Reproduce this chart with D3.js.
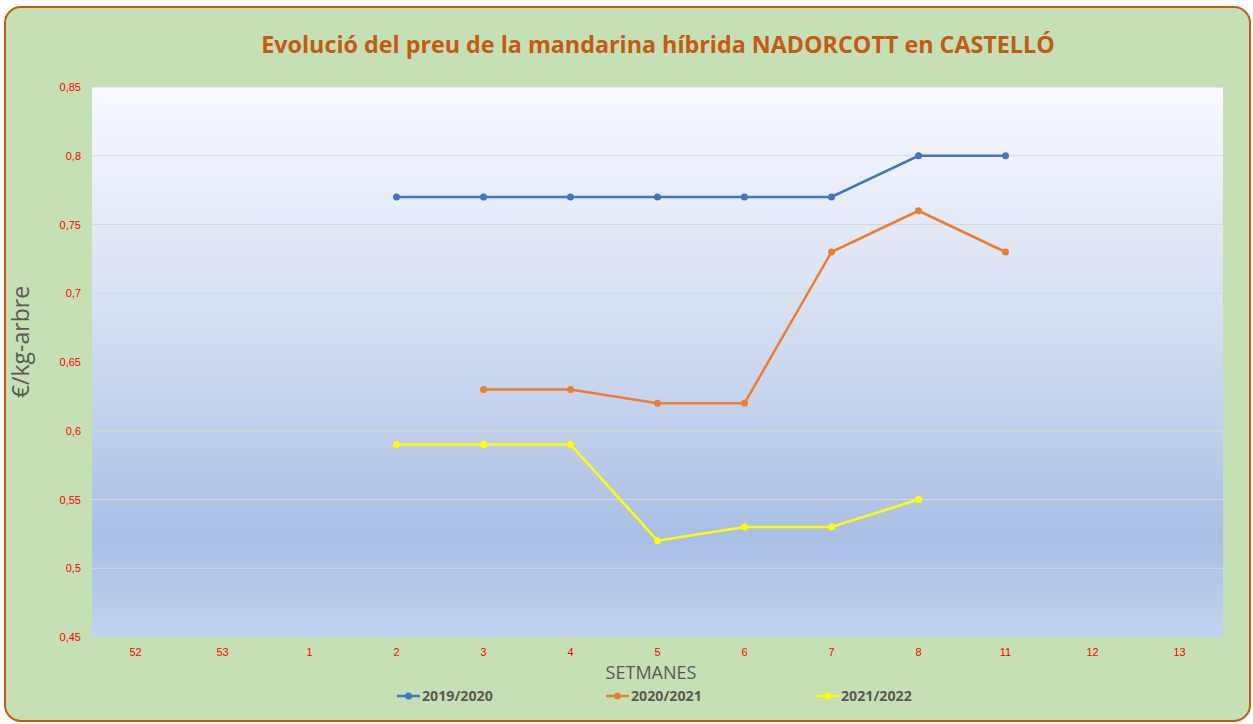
<!DOCTYPE html>
<html>
<head>
<meta charset="utf-8">
<script src="https://cdn.jsdelivr.net/npm/d3@7"></script>
<style>
  body { margin: 0; background: #fff; }
  svg { display: block; font-family: "Open Sans", "Noto Sans", sans-serif; }
</style>
</head>
<body>
<svg id="chart" width="1253" height="724"></svg>
<script>
const width = 1253;
const height = 724;

const weeks = ["52", "53", "1", "2", "3", "4", "5", "6", "7", "8", "11", "12", "13"];
const seasons = ["2019/2020", "2020/2021", "2021/2022"];
const colors = ["#4472c4", "#ed7d31", "#ffff00"];
const values2019 = [null, null, null, 0.77, 0.77, 0.77, 0.77, 0.77, 0.77, 0.80, 0.80, null, null];
const values2020 = [null, null, null, null, 0.63, 0.63, 0.62, 0.62, 0.73, 0.76, 0.73, null, null];
const values2021 = [null, null, null, 0.59, 0.59, 0.59, 0.52, 0.53, 0.53, 0.55, null, null, null];
const yTicks = [0.45, 0.5, 0.55, 0.6, 0.65, 0.7, 0.75, 0.8, 0.85];

const series = [values2019, values2020, values2021];

const margin = { top: 87, right: 30, bottom: 87, left: 92 };
const svg = d3.select("#chart");

// background card
svg.append("rect")
    .attr("x", 5).attr("y", 7)
    .attr("width", width - 8).attr("height", height - 10)
    .attr("rx", 16)
    .attr("fill", "#c5e0b4")
    .attr("stroke", "#c55a11")
    .attr("stroke-width", 2);

const x = d3.scaleBand()
    .domain(weeks)
    .range([margin.left, width - margin.right]);

const y = d3.scaleLinear()
    .domain([0.45, 0.85])
    .range([height - margin.bottom, margin.top]);

// plot area gradient
const grad = svg.append("defs").append("linearGradient")
    .attr("id", "plotGrad")
    .attr("x1", 0).attr("y1", 0).attr("x2", 0).attr("y2", 1);
grad.append("stop").attr("offset", "0%").attr("stop-color", "#f8faff");
grad.append("stop").attr("offset", "45%").attr("stop-color", "#d2ddf1");
grad.append("stop").attr("offset", "82%").attr("stop-color", "#aabfe5");
grad.append("stop").attr("offset", "100%").attr("stop-color", "#c3d3ee");

svg.append("rect")
    .attr("x", x.range()[0])
    .attr("y", y(0.85))
    .attr("width", x.range()[1] - x.range()[0])
    .attr("height", y(0.45) - y(0.85))
    .attr("fill", "url(#plotGrad)");

// gridlines
svg.append("g")
    .selectAll("line")
    .data(yTicks.slice(1))
    .join("line")
    .attr("x1", x.range()[0])
    .attr("x2", x.range()[1])
    .attr("y1", d => y(d))
    .attr("y2", d => y(d))
    .attr("stroke", "#d9d9d9")
    .attr("stroke-width", 1);

// y axis
const fmt = d => String(d).replace(".", ",");
const yAxis = svg.append("g")
    .attr("transform", `translate(${margin.left - 8},0)`)
    .call(d3.axisLeft(y).tickValues(yTicks).tickFormat(fmt).tickSize(0));
yAxis.select(".domain").remove();
yAxis.selectAll("text")
    .attr("fill", "#ff0000")
    .attr("font-size", 11);

// x axis
const xAxis = svg.append("g")
    .attr("transform", `translate(0,${height - margin.bottom + 8})`)
    .call(d3.axisBottom(x).tickSize(0));
xAxis.select(".domain").remove();
xAxis.selectAll("text")
    .attr("fill", "#ff0000")
    .attr("font-size", 11);

// lines
const line = d3.line()
    .defined(d => d.v != null)
    .x(d => x(d.w) + x.bandwidth() / 2)
    .y(d => y(d.v));

series.forEach((vals, i) => {
    const pts = weeks.map((w, j) => ({ w: w, v: vals[j] }));
    svg.append("path")
        .datum(pts)
        .attr("d", line)
        .attr("fill", "none")
        .attr("stroke", colors[i])
        .attr("stroke-width", 2.5);
    svg.append("g")
        .selectAll("circle")
        .data(pts.filter(d => d.v != null))
        .join("circle")
        .attr("cx", d => x(d.w) + x.bandwidth() / 2)
        .attr("cy", d => y(d.v))
        .attr("r", 3.5)
        .attr("fill", colors[i]);
});

// title
svg.append("text")
    .attr("x", 658).attr("y", 53)
    .attr("text-anchor", "middle")
    .attr("font-size", 23.3)
    .attr("font-weight", "bold")
    .attr("fill", "#c55a11")
    .text("Evolució del preu de la mandarina híbrida NADORCOTT en CASTELLÓ");

// axis titles
svg.append("text")
    .attr("transform", "translate(29,342) rotate(-90)")
    .attr("text-anchor", "middle")
    .attr("font-size", 23)
    .attr("fill", "#595959")
    .text("€/kg-arbre");

svg.append("text")
    .attr("x", 651).attr("y", 679)
    .attr("text-anchor", "middle")
    .attr("font-size", 18)
    .attr("fill", "#595959")
    .text("SETMANES");

// legend
const legendX = [397, 606, 816];
const legend = svg.append("g");
seasons.forEach((s, i) => {
    const g = legend.append("g").attr("transform", `translate(${legendX[i]},696)`);
    g.append("line")
        .attr("x1", 0).attr("x2", 23)
        .attr("stroke", colors[i])
        .attr("stroke-width", 2.5);
    g.append("circle").attr("cx", 11.5).attr("r", 3.5).attr("fill", colors[i]);
    g.append("text")
        .attr("x", 25).attr("dy", "0.35em")
        .attr("font-size", 14.2)
        .attr("font-weight", "bold")
        .attr("fill", "#595959")
        .text(s);
});
</script>
</body>
</html>
